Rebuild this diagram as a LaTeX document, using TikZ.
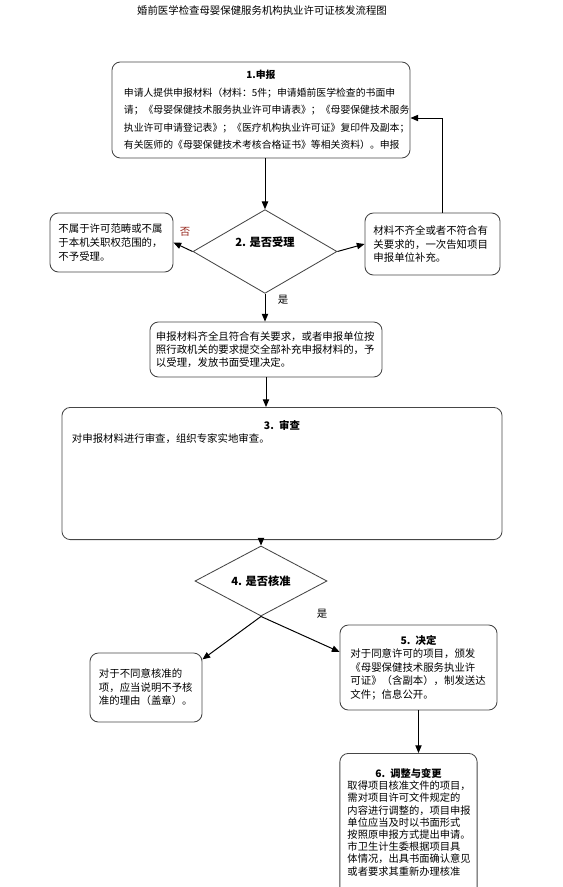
\documentclass[tikz,border=0pt]{standalone}
\usepackage{fontspec}
\setmainfont{Noto Sans CJK SC}
\usepackage{tikz}
\usetikzlibrary{shapes.geometric,arrows.meta,positioning,calc}
\definecolor{cLine}{RGB}{70,70,70}
\definecolor{cNo}{RGB}{150,40,30}
\tikzset{
  basebox/.style={rectangle,rounded corners=6pt,draw=cLine,line width=0.6pt,
                  align=left,inner ysep=4pt,
                  font=\fontsize{7.4pt}{9.4pt}\selectfont},
  applybox/.style={basebox,inner xsep=0.3cm,
                   font=\fontsize{7pt}{12.4pt}\selectfont},
  sidebox/.style={basebox,font=\fontsize{7.4pt}{9.8pt}\selectfont},
  decnode/.style={diamond,draw=cLine,line width=0.6pt,inner sep=0pt,
                  font=\bfseries\fontsize{8pt}{9pt}\selectfont},
  arr/.style={-{Triangle[length=5.5pt,width=4.5pt]},line width=0.7pt,color=black},
  lbl/.style={font=\fontsize{7.4pt}{9pt}\selectfont,inner sep=0pt}
}

\begin{document}
\begin{tikzpicture}[x=0.025cm,y=-0.025cm]
  \clip (0,0) rectangle (563,887);

  % title
  \node[lbl] (title) at (262,11) {婚前医学检查母婴保健服务机构执业许可证核发流程图};

  % step 1
  \node[applybox,minimum width=7.45cm,minimum height=2.4cm,text width=6.85cm] (apply) at (261,110) {%
    \mbox{}\hfill\textbf{1.申报}\hfill\mbox{}\\
    申请人提供申报材料（材料：5件；申请婚前医学检查的书面申\\
    请；《母婴保健技术服务执业许可申请表》；《母婴保健技术服务\\
    执业许可申请登记表》；《医疗机构执业许可证》复印件及副本；\\
    有关医师的《母婴保健技术考核合格证书》等相关资料）。申报};

  % step 2
  \node[decnode,minimum width=3.6cm,minimum height=2.05cm,
        text height=5pt,text depth=12.4pt] (accept) at (265,251.5) {2. 是否受理};
  \node[sidebox,minimum width=3.075cm,minimum height=1.475cm,text width=2.65cm] (refuse) at (111.5,242.5) {%
    不属于许可范畴或不属\\于本机关职权范围的，\\不予受理。};
  \node[sidebox,minimum width=3.375cm,minimum height=1.55cm,text width=2.95cm] (supply) at (432.5,244) {%
    材料不齐全或者不符合有\\关要求的，一次告知项目\\申报单位补充。};
  \node[basebox,minimum width=5.8cm,minimum height=1.375cm,text width=5.5cm] (admit) at (266,349.5) {%
    申报材料齐全且符合有关要求，或者申报单位按\\
    照行政机关的要求提交全部补充申报材料的，予\\
    以受理，发放书面受理决定。};

  % step 3
  \node[basebox,anchor=north,minimum width=11cm,text width=10.5cm,
        font=\fontsize{7.4pt}{8.8pt}\selectfont,
        text height=12pt,text depth=74pt] (review) at (282,407) {%
    \mbox{}\hfill\textbf{3. 审查}\hfill\mbox{}\\
    对申报材料进行审查，组织专家实地审查。};

  % step 4
  \node[decnode,minimum width=3.3cm,minimum height=1.35cm] (approve) at (261,581) {4. 是否核准};
  \node[sidebox,minimum width=2.8cm,minimum height=1.725cm,text width=2.35cm,
        font=\fontsize{7.4pt}{9.6pt}\selectfont] (deny) at (146,687.5) {%
    对于不同意核准的\\项，应当说明不予核\\准的理由（盖章）。};

  % step 5
  \node[sidebox,minimum width=3.925cm,minimum height=2.125cm,text width=3.4cm,
        font=\fontsize{7.4pt}{9.6pt}\selectfont] (decide) at (418.5,667.5) {%
    \mbox{}\hfill\textbf{5. 决定}\hfill\mbox{}\\
    对于同意许可的项目，颁发\\
    《母婴保健技术服务执业许\\
    可证》（含副本），制发送达\\
    文件；信息公开。};

  % step 6
  \node[basebox,anchor=north,minimum width=3.425cm,text width=3.05cm,inner xsep=0.19cm,
        font=\fontsize{7.3pt}{8.7pt}\selectfont,
        text height=13pt,text depth=120pt] (change) at (408.5,753) {%
    \mbox{}\hfill\textbf{6. 调整与变更}\hfill\mbox{}\\
    取得项目核准文件的项目，\\
    需对项目许可文件规定的\\
    内容进行调整的，项目申报\\
    单位应当及时以书面形式\\
    按照原申报方式提出申请。\\
    市卫生计生委根据项目具\\
    体情况，出具书面确认意见\\
    或者要求其重新办理核准};

  % labels
  \node[lbl,text=cNo] (no1) at (185,232) {否};
  \node[lbl] (yes1) at (283,300) {是};
  \node[lbl] (yes2) at (322,614) {是};

  % connectors
  \draw[arr] (accept.north |- apply.south) -- (accept.north);
  \draw[arr] (accept.west) -- (refuse.east);
  \draw[arr] (accept.east) -- (supply.west);
  \draw[arr] ([xshift=0.26cm]supply.north) |- ([yshift=-0.2cm]apply.east);
  \draw[arr] (accept.south) -- (accept.south |- admit.north);
  \draw[arr] (admit.south) -- (admit.south |- review.north);
  \draw[arr] (approve.north |- review.south) -- (approve.north);
  \draw[arr] (approve.south) -- ([yshift=-0.17cm]deny.north east);
  \draw[arr] (approve.south) -- ([yshift=0.39cm]decide.west);
  \draw[arr] (decide.south) -- (decide.south |- change.north);

\end{tikzpicture}
\end{document}
